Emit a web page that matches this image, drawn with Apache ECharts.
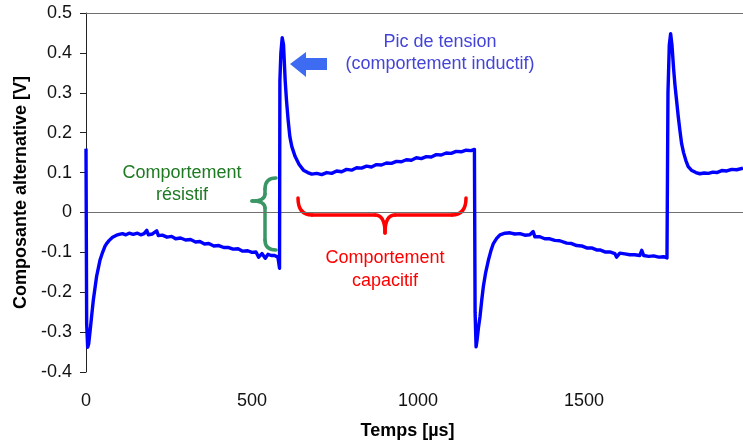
<!DOCTYPE html>
<html lang="fr">
<head>
<meta charset="utf-8" />
<title>Composante alternative</title>
<style>
  html, body { margin: 0; padding: 0; background: #fff; }
  #chart { width: 743px; height: 445px; }
</style>
</head>
<body>
<div id="chart"></div>
<script src="https://cdn.jsdelivr.net/npm/echarts@6/dist/echarts.min.js"></script>
<script>
// temps (µs) et tension (V)
const tUs = [
  0, 2, 5, 8, 12, 17, 22, 27, 32, 37, 42, 50, 57, 62, 70, 80, 92, 100, 110, 120,
  130, 142, 155, 165, 175, 183, 188, 200, 213, 218, 230, 244, 258, 270, 285, 300, 315, 330, 343, 357,
  370, 385, 400, 415, 430, 443, 458, 472, 487, 500, 512, 520, 530, 540, 548, 558, 568, 578, 583, 584,
  587, 591, 595, 600, 604, 609, 614, 620, 630, 642, 655, 668, 680, 695, 710, 725, 740, 755, 770, 785,
  800, 815, 830, 845, 860, 875, 890, 905, 920, 935, 950, 965, 980, 995, 1010, 1025, 1040, 1055, 1070, 1085,
  1100, 1115, 1130, 1145, 1160, 1170, 1172, 1175, 1178, 1182, 1187, 1192, 1197, 1204, 1212, 1220, 1227, 1237, 1247, 1262,
  1277, 1292, 1307, 1322, 1337, 1347, 1352, 1367, 1382, 1397, 1412, 1427, 1448, 1463, 1478, 1493, 1508, 1523, 1538, 1548,
  1563, 1578, 1593, 1598, 1608, 1623, 1638, 1653, 1668, 1674, 1680, 1695, 1710, 1725, 1740, 1750, 1753, 1757, 1761, 1765,
  1770, 1774, 1779, 1784, 1789, 1794, 1800, 1807, 1814, 1825, 1837, 1849, 1862, 1875, 1888, 1900, 1915, 1930, 1945, 1960,
  1979
];
const volts = [
  0.16, -0.28, -0.338, -0.33, -0.30, -0.26, -0.22, -0.19, -0.16, -0.14, -0.12, -0.10, -0.085, -0.078, -0.07, -0.062, -0.057, -0.055, -0.053, -0.056,
  -0.052, -0.055, -0.052, -0.056, -0.053, -0.045, -0.056, -0.054, -0.046, -0.058, -0.057, -0.062, -0.06, -0.066, -0.064, -0.069, -0.068, -0.074, -0.073, -0.079,
  -0.078, -0.084, -0.083, -0.088, -0.088, -0.092, -0.091, -0.097, -0.096, -0.1, -0.099, -0.112, -0.103, -0.115, -0.105, -0.108, -0.108, -0.112, -0.14, 0.33,
  0.40, 0.438, 0.42, 0.33, 0.28, 0.23, 0.19, 0.165, 0.14, 0.12, 0.106, 0.1, 0.096, 0.098, 0.095, 0.1, 0.098, 0.104, 0.102, 0.108,
  0.106, 0.112, 0.111, 0.116, 0.114, 0.12, 0.119, 0.124, 0.123, 0.128, 0.127, 0.132, 0.131, 0.137, 0.135, 0.14, 0.139, 0.145, 0.144, 0.149,
  0.148, 0.153, 0.152, 0.156, 0.155, 0.158, -0.25, -0.337, -0.32, -0.29, -0.26, -0.22, -0.185, -0.15, -0.12, -0.095, -0.078, -0.065, -0.056, -0.052,
  -0.051, -0.054, -0.053, -0.057, -0.056, -0.048, -0.061, -0.061, -0.066, -0.066, -0.07, -0.071, -0.077, -0.078, -0.083, -0.084, -0.089, -0.089, -0.094, -0.094,
  -0.099, -0.099, -0.103, -0.112, -0.102, -0.104, -0.106, -0.106, -0.108, -0.095, -0.108, -0.11, -0.109, -0.112, -0.111, -0.114, 0.30, 0.42, 0.448, 0.42,
  0.36, 0.32, 0.28, 0.24, 0.205, 0.173, 0.15, 0.13, 0.115, 0.105, 0.1, 0.097, 0.099, 0.098, 0.101, 0.1, 0.105, 0.104, 0.108, 0.107,
  0.111
];
const xTicks = [0, 500, 1000, 1500];
const yTicks = [-0.4, -0.3, -0.2, -0.1, 0, 0.1, 0.2, 0.3, 0.4, 0.5];

const FONT = '"Liberation Sans", Arial, sans-serif';
const points = tUs.map((t, i) => [t, volts[i]]);

// accolades : suite de segments [x1,y1,x2,y2] ou courbes [x1,y1,cx,cy,x2,y2]
function brace(segs, color) {
  return segs.map(s => {
    const style = { stroke: color, lineWidth: 3.5, fill: null, lineCap: 'round' };
    if (s.length === 4) {
      return { type: 'line', shape: { x1: s[0], y1: s[1], x2: s[2], y2: s[3] }, style };
    }
    return { type: 'bezierCurve', shape: { x1: s[0], y1: s[1], cpx1: s[2], cpy1: s[3], x2: s[4], y2: s[5] }, style };
  });
}

function label(text, x, y, color) {
  return {
    type: 'text',
    style: {
      text, x, y, fill: color, font: '18px ' + FONT,
      align: 'center', verticalAlign: 'middle', textAlign: 'center', textVerticalAlign: 'middle'
    }
  };
}

const greenBrace = brace([
  [276, 178, 265, 178, 265, 189],
  [265, 189, 265, 194],
  [265, 194, 265, 201, 252, 201],
  [252, 201, 265, 201, 265, 208],
  [265, 208, 265, 240],
  [265, 240, 265, 250, 276, 250]
], '#3a9664');

const redBrace = brace([
  [298, 198, 298, 215, 312, 215],
  [312, 215, 375, 215],
  [375, 215, 385, 215, 385, 233],
  [385, 233, 385, 215, 395, 215],
  [395, 215, 452, 215],
  [452, 215, 466, 215, 466, 198]
], '#ff0000');

const chart = echarts.init(document.getElementById('chart'), null, { renderer: 'canvas' });

chart.setOption({
  animation: false,
  backgroundColor: '#ffffff',
  grid: { left: 86, right: 0, top: 13, bottom: 72 },
  xAxis: {
    type: 'value',
    min: 0,
    max: 1979,
    interval: 500,
    name: 'Temps [µs]',
    nameLocation: 'middle',
    nameGap: 50,
    nameTextStyle: { fontFamily: FONT, fontSize: 18, fontWeight: 'bold', color: '#000', padding: [0, 14, 0, 0] },
    axisLine: { lineStyle: { color: '#000', width: 1 } },
    axisTick: { show: false },
    splitLine: { show: false },
    axisLabel: {
      margin: 20,
      fontFamily: FONT,
      fontSize: 18,
      color: '#111',
      showMaxLabel: false,
      formatter: v => (xTicks.includes(v) ? String(v) : '')
    }
  },
  yAxis: {
    type: 'value',
    min: -0.4,
    max: 0.5,
    interval: 0.1,
    name: 'Composante alternative [V]',
    nameLocation: 'middle',
    nameGap: 56,
    nameTextStyle: { fontFamily: FONT, fontSize: 18, fontWeight: 'bold', color: '#000' },
    axisLine: { show: true, lineStyle: { color: '#222', width: 1 } },
    axisTick: { show: true, length: 6, lineStyle: { color: '#222' } },
    splitLine: { show: false },
    axisLabel: {
      margin: 14,
      fontFamily: FONT,
      fontSize: 18,
      color: '#111',
      formatter: v => {
        const r = Math.round(v * 10) / 10;
        return yTicks.includes(r) ? String(r) : '';
      }
    }
  },
  series: [{
    type: 'line',
    data: points,
    showSymbol: false,
    lineStyle: { color: '#0000ff', width: 3.4, join: 'round' },
    itemStyle: { color: '#0000ff' },
    z: 3,
    markLine: {
      silent: true,
      symbol: ['none', 'none'],
      label: { show: false },
      lineStyle: { color: '#707070', width: 1.2, type: 'solid' },
      z: 1,
      data: [{ yAxis: 0 }, { yAxis: 0.5 }]
    }
  }],
  graphic: [
    {
      type: 'polygon',
      shape: { points: [[290, 64], [306, 52], [306, 58], [327, 58], [327, 70], [306, 70], [306, 77]] },
      style: { fill: '#3d6cf2' }
    },
    label('Pic de tension', 440, 42, '#4444d8'),
    label('(comportement inductif)', 440, 64, '#4444d8'),
    label('Comportement', 182, 173, '#1e7a22'),
    label('résistif', 182, 195, '#1e7a22'),
    label('Comportement', 385, 258, '#ff0000'),
    label('capacitif', 385, 281, '#ff0000')
  ].concat(greenBrace, redBrace)
});
</script>
</body>
</html>
